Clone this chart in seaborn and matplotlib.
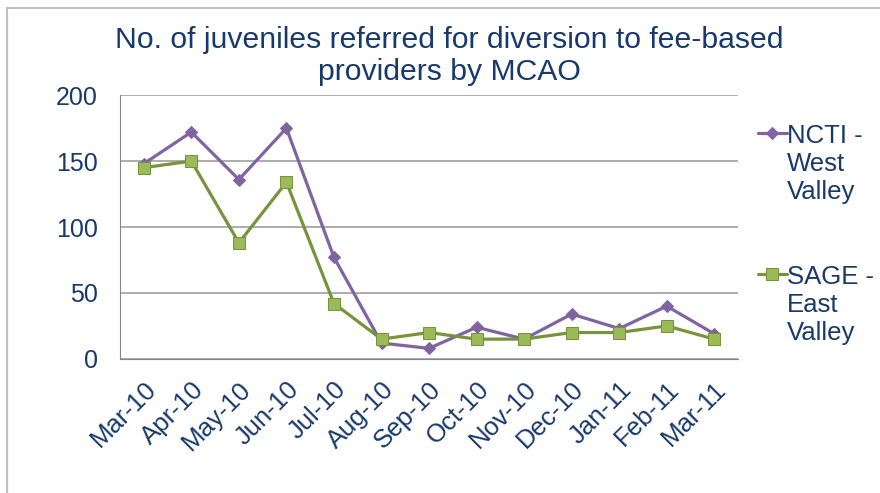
import matplotlib
matplotlib.use("Agg")
import matplotlib.pyplot as plt
import matplotlib.patches as mpatches
import numpy as np
import pandas as pd
import seaborn as sns

# DATA
months = ["Mar-10", "Apr-10", "May-10", "Jun-10", "Jul-10", "Aug-10", "Sep-10",
          "Oct-10", "Nov-10", "Dec-10", "Jan-11", "Feb-11", "Mar-11"]
ncti_west = [148, 172, 136, 175, 77, 12, 8, 24, 15, 34, 23, 40, 19]
sage_east = [145, 150, 88, 134, 42, 15, 20, 15, 15, 20, 20, 25, 15]
y_ticks = [0, 50, 100, 150, 200]

title = "No. of juveniles referred for diversion to fee-based\nproviders by MCAO"
ncti_label = "NCTI -\nWest\nValley"
sage_label = "SAGE -\nEast\nValley"

text_col = "#17396B"
purple = "#8064A2"
green_line = "#77933C"
green_fill = "#9BBB59"

sns.set_style("white")
plt.rcParams["font.family"] = ["Liberation Sans", "DejaVu Sans"]

df = pd.DataFrame({"month": months, "ncti": ncti_west, "sage": sage_east})
x = np.arange(len(months))

fig = plt.figure(figsize=(8.8, 4.93), dpi=100)
ax = fig.add_axes([0.1364, 0.272, 0.7023, 0.535])

sns.lineplot(x=x, y=df["ncti"], ax=ax, color=purple, linewidth=2.3,
             marker="D", markersize=6, markeredgecolor=purple,
             markerfacecolor=purple, label=ncti_label)
sns.lineplot(x=x, y=df["sage"], ax=ax, color=green_line, linewidth=2.3,
             marker="s", markersize=8, markeredgecolor=green_line,
             markerfacecolor=green_fill, label=sage_label)

ax.set_xlim(-0.5, len(months) - 0.5)
ax.set_ylim(0, 200)
ax.set_yticks(y_ticks)
ax.set_yticklabels([str(v) for v in y_ticks], fontsize=18, color=text_col)
ax.set_xticks(x)
ax.set_xticklabels(months, fontsize=18.5, color=text_col, rotation=45,
                   ha="right", rotation_mode="anchor")
ax.set_xticks(np.arange(-0.5, len(months), 1), minor=True)
ax.tick_params(axis="x", which="major", length=0, pad=13)
ax.tick_params(axis="x", which="minor", length=6, color="#868686", width=1)
ax.tick_params(axis="y", length=6, color="#868686", width=1, pad=10)
ax.set_xlabel("")
ax.set_ylabel("")

ax.yaxis.grid(True, color="#A6A6A6", linewidth=1.3)
ax.set_axisbelow(True)
for side in ["top", "right"]:
    ax.spines[side].set_visible(False)
ax.spines["left"].set_color("#868686")
ax.spines["bottom"].set_color("#868686")

fig.text(0.511, 0.886, title, ha="center", va="center", fontsize=21.7,
         color=text_col, linespacing=1.2)

leg = ax.legend(loc="upper left", bbox_to_anchor=(1.015, 0.928), frameon=False,
                fontsize=18.5, labelspacing=2.37, handlelength=1.15,
                handletextpad=0.0, borderaxespad=0)
for t in leg.get_texts():
    t.set_color(text_col)
    t.set_linespacing(1.2)
for col in leg._legend_handle_box.get_children():
    for row in col.get_children():
        row.align = "top"

# chart frame (left and top edges visible)
fig.add_artist(mpatches.Rectangle((0.008, -0.5), 2, 0.5 + 0.984, fill=False,
                                  edgecolor="#BFBFBF", linewidth=1.5,
                                  transform=fig.transFigure))

fig.savefig("out.png", dpi=100)
